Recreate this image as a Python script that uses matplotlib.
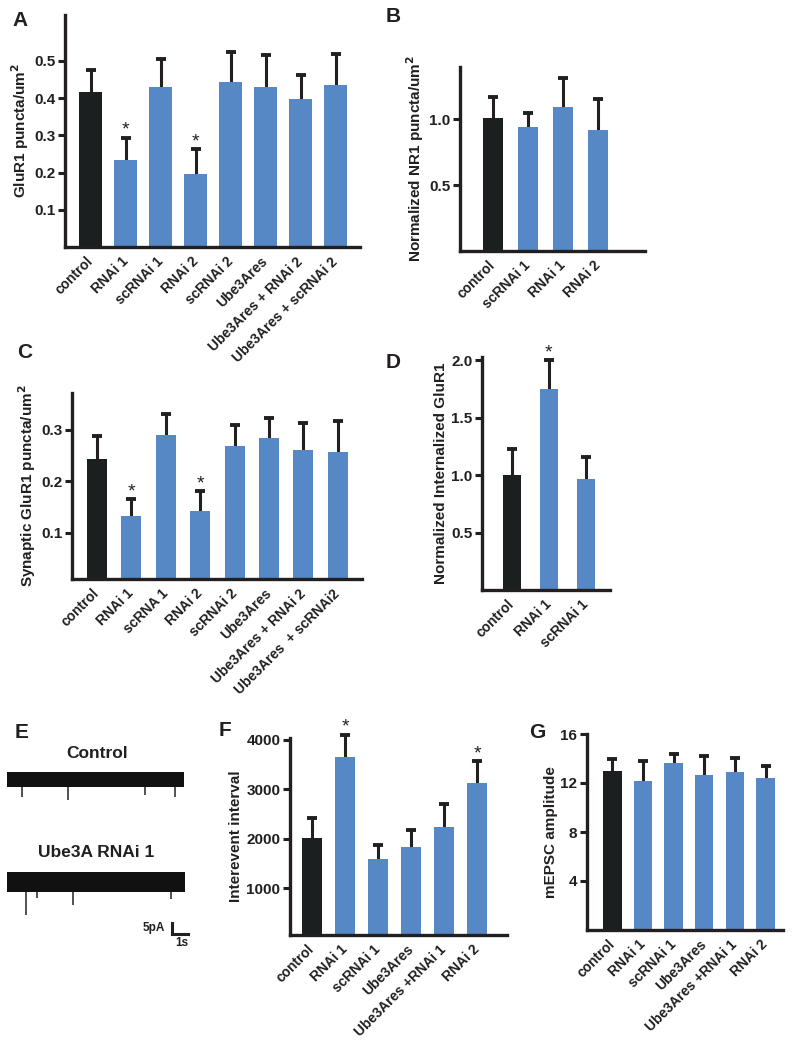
import matplotlib.pyplot as plt
import numpy as np

plt.rcParams['font.family'] = ['Liberation Sans', 'DejaVu Sans']
plt.rcParams['font.weight'] = 'bold'

# -----------------------------
# data
# -----------------------------
a_labels = ['control', 'RNAi 1', 'scRNAi 1', 'RNAi 2', 'scRNAi 2', 'Ube3Ares',
            'Ube3Ares + RNAi 2', 'Ube3Ares + scRNAi 2']
a_means = [0.415, 0.234, 0.430, 0.195, 0.443, 0.430, 0.398, 0.436]
a_sem = [0.060, 0.060, 0.074, 0.067, 0.080, 0.085, 0.064, 0.083]
a_stars = [1, 3]

b_labels = ['control', 'scRNAi 1', 'RNAi 1', 'RNAi 2']
b_means = [1.008, 0.940, 1.090, 0.917]
b_sem = [0.160, 0.110, 0.220, 0.240]

c_labels = ['control', 'RNAi 1', 'scRNA 1', 'RNAi 2', 'scRNAi 2', 'Ube3Ares',
            'Ube3Ares + RNAi 2', 'Ube3Ares  + scRNAi2']
c_means = [0.244, 0.132, 0.290, 0.142, 0.269, 0.284, 0.262, 0.257]
c_sem = [0.044, 0.033, 0.041, 0.040, 0.041, 0.040, 0.051, 0.061]
c_stars = [1, 3]

d_labels = ['control', 'RNAi 1', 'scRNAi 1']
d_means = [1.00, 1.75, 0.963]
d_sem = [0.229, 0.250, 0.200]
d_stars = [1]

f_labels = ['control', 'RNAi 1', 'scRNAi 1', 'Ube3Ares', 'Ube3Ares +RNAi 1', 'RNAi 2']
f_means = [2010, 3660, 1600, 1835, 2230, 3130]
f_sem = [415, 450, 275, 340, 480, 435]
f_stars = [1, 5]

g_labels = ['control', 'RNAi 1', 'scRNAi 1', 'Ube3Ares', 'Ube3Ares +RNAi 1', 'RNAi 2']
g_means = [13.00, 12.13, 13.62, 12.63, 12.86, 12.39]
g_sem = [0.96, 1.70, 0.78, 1.59, 1.20, 0.97]

# example mEPSC traces: duration (s), noise half-width (pA), events (time s, amplitude pA)
ctrl_dur = 11.06
ctrl_noise = 3.4
ctrl_ev_t = [0.94, 3.8, 8.6, 10.5]
ctrl_ev_amp = [8.0, 9.3, 7.0, 8.0]

rnai_dur = 11.1
rnai_noise = 4.5
rnai_ev_t = [1.2, 1.9, 4.1, 10.25]
rnai_ev_amp = [15.0, 7.3, 10.5, 7.7]

BLACK = '#1b1f1f'
BLUE = '#5788c6'
AXC = '#231f20'

W, H = 800, 1049
fig = plt.figure(figsize=(W / 100, H / 100), dpi=100)


def px_axes(left, top, right, bottom):
    return fig.add_axes([left / W, 1 - bottom / H, (right - left) / W, (bottom - top) / H])


def bar_panel(ax, labels, means, sem, stars, xlim, ylim, yticks, yticklabels, ylabel, width):
    x = np.arange(len(labels))
    means = np.array(means, dtype=float)
    tops = means + np.array(sem, dtype=float)
    colors = [BLACK] + [BLUE] * (len(labels) - 1)
    ax.bar(x, means, width=width, color=colors, zorder=2)
    # upper error bars only
    ax.vlines(x, means, tops, color=AXC, lw=2.2, zorder=1, clip_on=False)
    ax.plot(x, tops, ls='none', marker='_', ms=7.5, mew=2.8, color=AXC, zorder=1, clip_on=False)
    for i in stars:
        ax.annotate('*', (x[i], tops[i]), xytext=(0, -1), textcoords='offset points',
                    ha='center', va='bottom', fontsize=14, fontweight='normal', color=AXC,
                    annotation_clip=False)
    ax.set_xlim(*xlim)
    ax.set_ylim(*ylim)
    ax.set_xticks(x)
    ax.set_xticklabels(labels, rotation=45, ha='right', va='center', rotation_mode='anchor',
                       fontsize=10, fontweight='bold', color=AXC)
    ax.tick_params(axis='x', length=0, pad=9)
    ax.set_yticks(yticks)
    ax.set_yticklabels(yticklabels, fontsize=11, fontweight='bold', color=AXC)
    ax.tick_params(axis='y', length=5, width=2.2, direction='out', color=AXC, pad=2)
    ax.set_ylabel(ylabel, fontsize=11, fontweight='bold', color=AXC, labelpad=2)
    for s in ['top', 'right']:
        ax.spines[s].set_visible(False)
    for s in ['left', 'bottom']:
        ax.spines[s].set_linewidth(2.4)
        ax.spines[s].set_color(AXC)
    ax.set_facecolor('none')


# A
ax = px_axes(65, 15, 360, 247)
bar_panel(ax, a_labels, a_means, a_sem, a_stars, (-0.74, 7.7), (0, 0.623),
          [0.1, 0.2, 0.3, 0.4, 0.5], ['0.1', '0.2', '0.3', '0.4', '0.5'],
          'GluR1 puncta/um$^\\mathbf{2}$', 0.66)

# B
ax = px_axes(460, 67, 645, 251)
bar_panel(ax, b_labels, b_means, b_sem, [], (-0.94, 4.34), (0, 1.397),
          [0.5, 1.0], ['0.5', '1.0'], 'Normalized NR1 puncta/um$^\\mathbf{2}$', 0.57)

# C
ax = px_axes(72, 393, 362, 579)
bar_panel(ax, c_labels, c_means, c_sem, c_stars, (-0.72, 7.7), (0.01, 0.372),
          [0.1, 0.2, 0.3], ['0.1', '0.2', '0.3'], 'Synaptic GluR1 puncta/um$^\\mathbf{2}$', 0.58)

# D
ax = px_axes(482, 357, 610, 590)
bar_panel(ax, d_labels, d_means, d_sem, d_stars, (-0.81, 2.65), (0, 2.03),
          [0.5, 1.0, 1.5, 2.0], ['0.5', '1.0', '1.5', '2.0'], 'Normalized Internalized GluR1', 0.51)

# F
ax = px_axes(290, 738, 507, 935)
bar_panel(ax, f_labels, f_means, f_sem, f_stars, (-0.67, 5.9), (55, 4040),
          [1000, 2000, 3000, 4000], ['1000', '2000', '3000', '4000'], 'Interevent interval', 0.6)

# G
ax = px_axes(587, 734, 783, 930)
bar_panel(ax, g_labels, g_means, g_sem, [], (-0.83, 5.57), (0, 16),
          [4, 8, 12, 16], ['4', '8', '12', '16'], 'mEPSC amplitude', 0.6)

# E: traces
ax = px_axes(0, 720, 220, 960)
ax.set_xlim(-0.4375, 13.3125)
ax.set_ylim(-82.05, 27.05)
ax.axis('off')
rnai_off = -46.6
for dur, noise, ev_t, ev_amp, off in [(ctrl_dur, ctrl_noise, ctrl_ev_t, ctrl_ev_amp, 0.0),
                                      (rnai_dur, rnai_noise, rnai_ev_t, rnai_ev_amp, rnai_off)]:
    ax.fill_between([0, dur], off - noise, off + noise, color='#111111', lw=0)
    ax.vlines(ev_t, off - noise, off - np.array(ev_amp), color='#222222', lw=1.1)
ax.text(5.6, 11.6, 'Control', ha='center', va='center', fontsize=12.5, fontweight='bold', color=AXC)
ax.text(5.6, -33.4, 'Ube3A RNAi 1', ha='center', va='center', fontsize=12.5, fontweight='bold',
        color=AXC)
# scale bar 1 s / 5 pA
sb_x, sb_y = 10.3, -70.2
ax.plot([sb_x, sb_x, sb_x + 1], [sb_y + 5, sb_y, sb_y], color=AXC, lw=2.2, solid_joinstyle='miter')
ax.text(sb_x - 0.45, sb_y + 2.7, '5pA', ha='right', va='center', fontsize=8.5, fontweight='bold',
        color=AXC)
ax.text(sb_x + 0.6, sb_y - 4.2, '1s', ha='center', va='center', fontsize=8.5, fontweight='bold',
        color=AXC)

# panel letters
for letter, px, py in [('A', 20, 20), ('B', 393, 17), ('C', 25, 353), ('D', 393, 363),
                       ('E', 22, 732), ('F', 225, 730), ('G', 537, 733)]:
    fig.text(px / W, 1 - py / H, letter, ha='center', va='center', fontsize=15,
             fontweight='bold', color=AXC)

plt.savefig('out.png', dpi=100)
